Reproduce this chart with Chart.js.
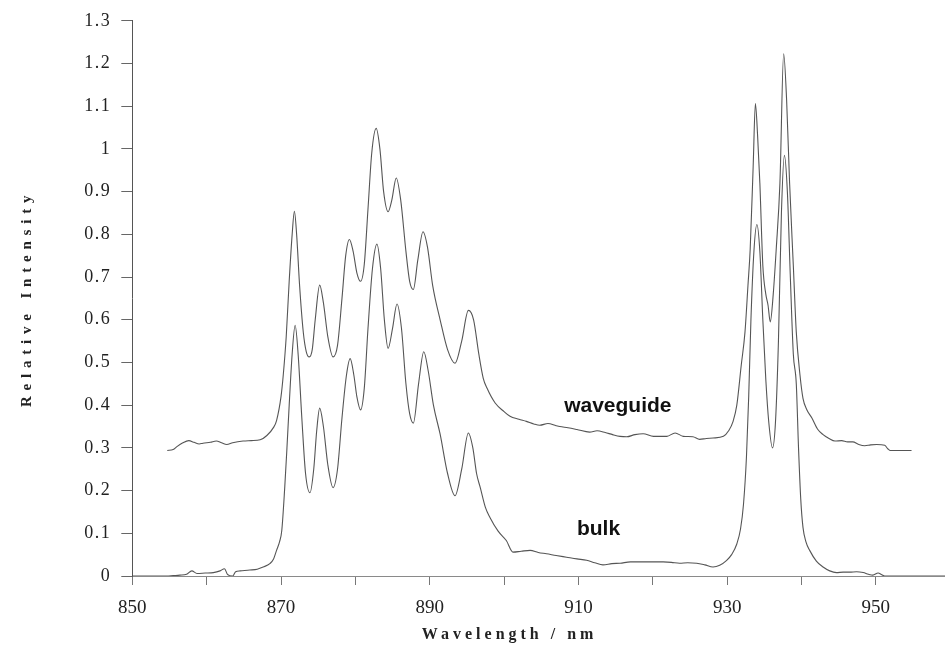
<!DOCTYPE html>
<html><head><meta charset="utf-8">
<script src="https://cdn.jsdelivr.net/npm/chart.js@4"></script>
<style>html,body{margin:0;padding:0;background:#fff;}canvas{display:block;}</style>
</head><body>
<canvas id="c" width="945" height="658"></canvas>
<script>
// ---- data ----
const waveguideNm = [854.7,855.5,856.0,856.8,857.6,858.3,859.0,859.5,860.5,861.3,862.0,862.7,863.5,864.9,866.0,867.2,868.1,869.0,869.4,870.0,870.3,870.7,871.1,871.5,871.8,872.1,872.5,873.0,873.4,873.8,874.2,874.6,875.2,875.7,876.3,877.0,877.6,878.2,878.7,879.2,879.7,880.2,880.7,881.2,881.7,882.2,882.8,883.3,883.8,884.4,884.9,885.5,886.1,886.8,887.3,887.8,888.4,889.1,889.7,890.4,891.4,892.4,893.4,894.3,895.2,895.9,896.6,897.2,897.7,898.8,900.0,900.8,902.0,903.0,904.0,904.8,905.9,907.0,907.5,908.6,909.8,911.5,912.5,913.6,914.6,915.6,916.5,917.6,918.7,920.1,921.9,923.0,924.1,925.4,926.3,927.2,928.1,929.5,930.2,930.8,931.3,931.9,932.4,932.8,933.1,933.5,933.8,934.1,934.4,934.8,935.2,935.5,935.8,936.2,936.6,937.1,937.6,938.0,938.4,938.9,939.3,939.8,940.2,940.7,941.4,942.2,942.9,943.7,944.5,945.4,946.2,946.9,947.7,948.5,949.3,950.1,951.2,951.6,951.9,954.8];
const waveguideVal = [0.294,0.296,0.303,0.312,0.317,0.313,0.309,0.311,0.313,0.316,0.312,0.308,0.312,0.316,0.317,0.319,0.329,0.348,0.364,0.42,0.47,0.56,0.69,0.80,0.854,0.80,0.68,0.57,0.525,0.513,0.53,0.60,0.681,0.64,0.56,0.513,0.54,0.65,0.75,0.788,0.76,0.71,0.69,0.73,0.86,0.99,1.048,1.00,0.90,0.853,0.88,0.932,0.88,0.76,0.69,0.671,0.74,0.806,0.77,0.68,0.60,0.53,0.498,0.55,0.622,0.60,0.52,0.463,0.44,0.405,0.385,0.374,0.367,0.362,0.356,0.353,0.357,0.352,0.350,0.347,0.343,0.337,0.340,0.336,0.331,0.327,0.326,0.331,0.333,0.327,0.327,0.335,0.327,0.326,0.320,0.322,0.323,0.327,0.34,0.362,0.40,0.494,0.571,0.68,0.765,0.959,1.106,1.03,0.92,0.727,0.66,0.634,0.595,0.66,0.765,0.92,1.223,1.114,0.92,0.727,0.571,0.47,0.416,0.39,0.37,0.343,0.331,0.322,0.316,0.317,0.314,0.314,0.308,0.305,0.307,0.308,0.306,0.298,0.294,0.294];
const bulkNm = [850.0,854.6,855.5,856.4,857.3,858.0,858.7,859.8,860.9,861.8,862.4,862.8,863.5,863.9,864.5,865.8,866.8,867.6,868.5,869.0,869.4,869.8,870.1,870.5,870.8,871.1,871.5,871.9,872.3,872.8,873.3,873.9,874.4,874.8,875.2,875.7,876.3,877.0,877.6,878.2,878.8,879.3,879.8,880.2,880.7,881.2,881.7,882.3,882.9,883.4,883.9,884.4,885.0,885.6,886.2,886.8,887.3,887.8,888.5,889.2,889.8,890.5,891.4,892.4,893.4,894.3,895.2,895.8,896.3,896.8,897.5,898.1,899.2,900.3,901.2,902.3,903.5,904.6,905.7,907.0,908.4,909.8,911.1,912.2,913.3,914.5,915.6,917.0,918.3,919.8,921.4,922.5,923.6,924.7,925.9,927.0,928.1,929.0,929.9,930.6,931.3,931.8,932.2,932.6,932.9,933.2,933.6,934.0,934.4,934.8,935.2,935.6,936.1,936.5,936.9,937.3,937.7,938.1,938.5,938.9,939.3,939.6,939.9,940.2,940.6,941.1,942.0,942.9,943.8,944.7,945.6,946.5,947.4,948.3,949.0,949.6,950.3,950.8,951.2,952.6,959.3];
const bulkVal = [0.0,0.0,0.001,0.002,0.004,0.012,0.006,0.007,0.008,0.012,0.017,0.004,0.0,0.010,0.012,0.014,0.016,0.021,0.029,0.04,0.06,0.08,0.106,0.207,0.30,0.40,0.52,0.587,0.52,0.37,0.24,0.195,0.25,0.34,0.393,0.35,0.26,0.207,0.25,0.37,0.47,0.509,0.47,0.42,0.389,0.44,0.58,0.72,0.777,0.72,0.60,0.533,0.58,0.637,0.58,0.45,0.38,0.358,0.45,0.525,0.48,0.40,0.332,0.24,0.188,0.25,0.335,0.30,0.24,0.207,0.16,0.137,0.105,0.083,0.056,0.058,0.06,0.055,0.052,0.048,0.044,0.040,0.037,0.031,0.026,0.029,0.030,0.033,0.033,0.033,0.033,0.032,0.030,0.031,0.030,0.026,0.021,0.025,0.036,0.05,0.075,0.11,0.168,0.28,0.42,0.60,0.76,0.823,0.76,0.60,0.46,0.36,0.30,0.36,0.55,0.85,0.985,0.90,0.70,0.52,0.45,0.30,0.18,0.114,0.08,0.06,0.035,0.021,0.012,0.008,0.009,0.009,0.010,0.008,0.004,0.002,0.007,0.003,0.0,0.0,0.0];
const xTickValues = [850,860,870,880,890,900,910,920,930,940,950];
const xLabelValues = [850,870,890,910,930,950];
const yMin = 0, yMax = 1.3, yStep = 0.1;
const xMin = 850, xMax = 959.3;
const curveLabels = ['waveguide', 'bulk'];
const curveLabelNm = [915.3, 912.7];
const curveLabelVal = [0.384, 0.097];
const xTitle = 'Wavelength / nm';
const yTitle = 'Relative Intensity';

// ---- helpers ----
const toPoints = (xs, ys) => xs.map((x, i) => ({x, y: ys[i]}));
const serif = '"Liberation Serif", "Times New Roman", serif';

function wrap(scale, name, setup) {
  if (!scale || scale['_w_' + name]) return;
  const orig = scale[name];
  scale[name] = function (...a) {
    const c = this.ctx; c.save(); setup(c); orig.apply(this, a); c.restore();
  };
  scale['_w_' + name] = true;
}
const spacingPlugin = {
  id: 'spacing',
  beforeDraw(chart) {
    wrap(chart.scales.x, 'drawTitle', c => { c.letterSpacing = '4px'; c.translate(-29, 0); });
    wrap(chart.scales.y, 'drawTitle', c => { c.letterSpacing = '5.8px'; });
    wrap(chart.scales.y, 'drawLabels', c => { c.letterSpacing = '1.5px'; });
  }
};
const curveLabelPlugin = {
  id: 'curveLabels',
  afterDatasetsDraw(chart) {
    const {ctx, scales: {x, y}} = chart;
    ctx.save();
    ctx.font = 'bold 21px "Liberation Sans", Arial, sans-serif';
    ctx.fillStyle = '#111';
    ctx.textAlign = 'center';
    ctx.textBaseline = 'alphabetic';
    curveLabels.forEach((t, i) => {
      ctx.fillText(t, x.getPixelForValue(curveLabelNm[i]), y.getPixelForValue(curveLabelVal[i]));
    });
    ctx.restore();
  }
};
const whiteBg = {
  id: 'whiteBg',
  beforeDraw(chart) { const c = chart.ctx; c.save(); c.fillStyle = '#fff'; c.fillRect(0, 0, chart.width, chart.height); c.restore(); }
};

const lineStyle = {
  borderColor: 'rgba(55,55,55,0.85)', borderWidth: 1.1, pointRadius: 0,
  cubicInterpolationMode: 'monotone', fill: false
};

new Chart(document.getElementById('c'), {
  type: 'line',
  data: {
    datasets: [
      Object.assign({label: 'waveguide', data: toPoints(waveguideNm, waveguideVal)}, lineStyle),
      Object.assign({label: 'bulk', data: toPoints(bulkNm, bulkVal)}, lineStyle)
    ]
  },
  options: {
    responsive: false, animation: false, devicePixelRatio: 1,
    layout: {padding: {top: 17, right: 0, left: 0, bottom: 0}},
    plugins: {legend: {display: false}, tooltip: {enabled: false}},
    scales: {
      x: {
        type: 'linear', min: xMin, max: xMax,
        afterBuildTicks: s => { s.ticks = xTickValues.map(v => ({value: v})); },
        afterFit: s => { s.height = 82; },
        ticks: {
          autoSkip: false, maxRotation: 0, padding: 12,
          color: '#222', font: {family: serif, size: 19},
          callback: v => xLabelValues.includes(v) ? String(v) : ''
        },
        grid: {drawOnChartArea: false, drawTicks: true, tickLength: 9, color: '#777', lineWidth: 1},
        border: {display: true, color: '#8a8a8a', width: 1, dash: [5, 3]},
        title: {display: true, text: xTitle, color: '#222', font: {family: serif, size: 16, weight: 'bold'}, padding: {top: 0, bottom: 14}}
      },
      y: {
        type: 'linear', min: yMin, max: yMax,
        afterFit: s => { s.width = 132.3; },
        ticks: {
          stepSize: yStep, padding: 10,
          color: '#222', font: {family: serif, size: 18},
          callback: v => String(Math.round(v * 10) / 10)
        },
        grid: {drawOnChartArea: false, drawTicks: true, tickLength: 11, color: '#666', lineWidth: 1},
        border: {display: true, color: '#555', width: 1, dash: [8, 2]},
        title: {display: true, text: yTitle, color: '#222', font: {family: serif, size: 15, weight: 'bold'}, padding: {top: 18, bottom: 0}}
      }
    }
  },
  plugins: [whiteBg, spacingPlugin, curveLabelPlugin]
});
</script>
</body></html>
